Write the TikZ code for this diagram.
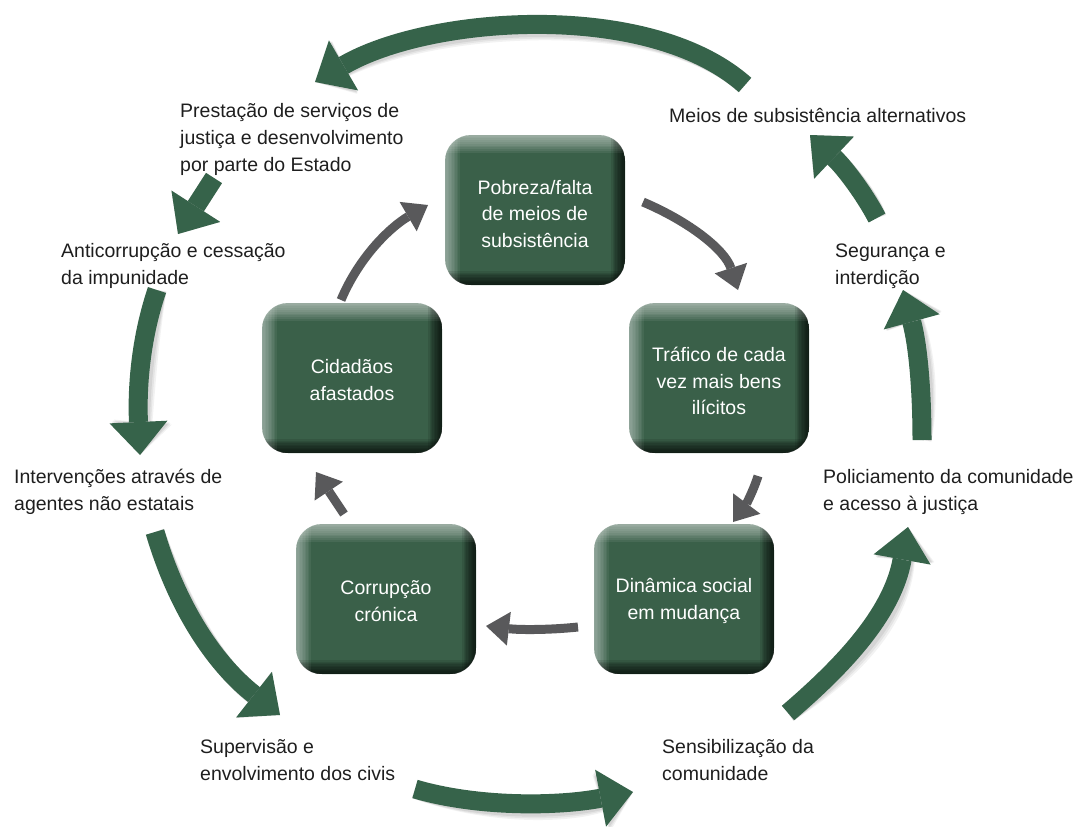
\documentclass[tikz,border=0pt]{standalone}
\usepackage{fontspec}
\setmainfont{Liberation Sans}
\usetikzlibrary{arrows.meta,calc}
\definecolor{arrgreen}{HTML}{36634A}
\definecolor{boxmid}{HTML}{3A6049}
\definecolor{arrgray}{HTML}{59595B}
\definecolor{txt}{HTML}{1E1E1E}
\tikzset{
  box/.style={fill=boxmid, rounded corners=26pt, minimum width=180pt, minimum height=150pt,
    inner sep=0pt, text=white, align=center, font=\fontsize{19.5}{26.5}\selectfont},
  boxtext/.style={inner sep=0pt, text=white, align=center, font=\fontsize{19.5}{26.5}\selectfont},
  lbl/.style={anchor=base west, align=left, inner sep=0pt, text=txt, font=\fontsize{19.5}{27}\selectfont},
  garr/.style={draw=arrgreen, line width=19pt, -{Triangle[length=33pt,width=58pt,line width=0pt]}},
  gshadow/.style={garr, draw=black, opacity=#1},
  grarr/.style={draw=arrgray, line width=9pt, -{Triangle[length=23pt,width=34pt,line width=0pt]}},
}
\newcommand\bevel[1]{%
  \begin{scope}
    \clip[rounded corners=26pt] (#1.south west) rectangle (#1.north east);
    \foreach \i in {1,...,10}{
      \fill[white, opacity=0.065] (#1.north west) rectangle ($(#1.north east)+(0,1.8*\i)$);
      \fill[white, opacity=0.06] (#1.north west) rectangle ($(#1.south west)+(1.5*\i,0)$);
      \fill[black, opacity=0.1] (#1.south east) rectangle ($(#1.north east)+(-1.4*\i,0)$);
      \fill[black, opacity=0.1] (#1.south west) rectangle ($(#1.south east)+(0,-1.4*\i)$);
    }
  \end{scope}}
\newcommand\greenarrow[1]{%
  \foreach \o/\a in {8/0.05,6/0.06,4/0.07}{\path[gshadow=\a, shift={(\o,\o)}] #1;}
  \path[garr] #1;}
\begin{document}
\begin{tikzpicture}[x=1pt,y=-1pt]
\path[use as bounding box] (0,0) rectangle (1079,827);

% boxes
\node[box] (pob) at (535,210) {};
\bevel{pob}
\node[boxtext] (pobt) at ([yshift=-4pt]pob.center) {Pobreza/falta\\de meios de\\subsistência};
\node[box] (tra) at (719,378) {};
\bevel{tra}
\node[boxtext] (trat) at ([yshift=-3pt]tra.center) {Tráfico de cada\\vez mais bens\\ilícitos};
\node[box] (din) at (684,599) {};
\bevel{din}
\node[boxtext] (dint) at ([yshift=-2pt]din.center) {Dinâmica social\\em mudança};
\node[box] (cor) at (386,599) {};
\bevel{cor}
\node[boxtext] (cort) at ([yshift=-2pt]cor.center) {Corrupção\\crónica};
\node[box] (cid) at (352,378) {};
\bevel{cid}
\node[boxtext] (cidt) at ([yshift=-2pt]cid.center) {Cidadãos\\afastados};

% labels (anchored at baseline of their last line)
\node[lbl] (l1) at (180,171) {Prestação de serviços de\\justiça e desenvolvimento\\por parte do Estado};
\node[lbl] (l2) at (669,122) {Meios de subsistência alternativos};
\node[lbl] (l3) at (61,284) {Anticorrupção e cessação\\da impunidade};
\node[lbl] (l4) at (835,284) {Segurança e\\interdição};
\node[lbl] (l5) at (14,510) {Intervenções através de\\agentes não estatais};
\node[lbl] (l6) at (823,510) {Policiamento da comunidade\\e acesso à justiça};
\node[lbl] (l7) at (200,780) {Supervisão e\\envolvimento dos civis};
\node[lbl] (l8) at (662,780) {Sensibilização da\\comunidade};

% gray inner arrows
\coordinate (a1s) at (341,300); \coordinate (a1e) at (428,205);
\coordinate (a2s) at (643,202); \coordinate (a2e) at (738,290);
\coordinate (a3s) at (758,476); \coordinate (a3e) at (733,522);
\coordinate (a4s) at (578,627); \coordinate (a4e) at (486,626);
\coordinate (a5s) at (344,514); \coordinate (a5e) at (316,472);
\draw[grarr] (a1s) .. controls (360,255) and (392,226) .. (a1e);
\draw[grarr] (a2s) .. controls (690,222) and (725,250) .. (a2e);
\draw[grarr] (a3s) .. controls (753,492) and (745,506) .. (a3e);
\draw[grarr] (a4s) .. controls (550,630) and (520,630) .. (a4e);
\draw[grarr] (a5s) -- (a5e);

% green outer arrows
\coordinate (g1s) at (745,85);  \coordinate (g1e) at (315,82);
\coordinate (g2s) at (214,178); \coordinate (g2e) at (178,234);
\coordinate (g3s) at (157,290); \coordinate (g3e) at (140,455);
\coordinate (g4s) at (155,532); \coordinate (g4e) at (280,715);
\coordinate (g5s) at (415,789); \coordinate (g5e) at (633,792);
\coordinate (g6s) at (788,713); \coordinate (g6e) at (908,527);
\coordinate (g7s) at (922,440); \coordinate (g7e) at (903,290);
\coordinate (g8s) at (877,218); \coordinate (g8e) at (810,135);
\greenarrow{(g1s) .. controls (650,0) and (430,15) .. (g1e)}
\greenarrow{(g2s) -- (g2e)}
\greenarrow{(g3s) .. controls (140,340) and (137,390) .. (g3e)}
\greenarrow{(g4s) .. controls (175,600) and (210,660) .. (g4e)}
\greenarrow{(g5s) .. controls (480,808) and (560,806) .. (g5e)}
\greenarrow{(g6s) .. controls (850,660) and (893,610) .. (g6e)}
\greenarrow{(g7s) .. controls (922,390) and (918,345) .. (g7e)}
\greenarrow{(g8s) .. controls (865,195) and (845,168) .. (g8e)}
\end{tikzpicture}
\end{document}
